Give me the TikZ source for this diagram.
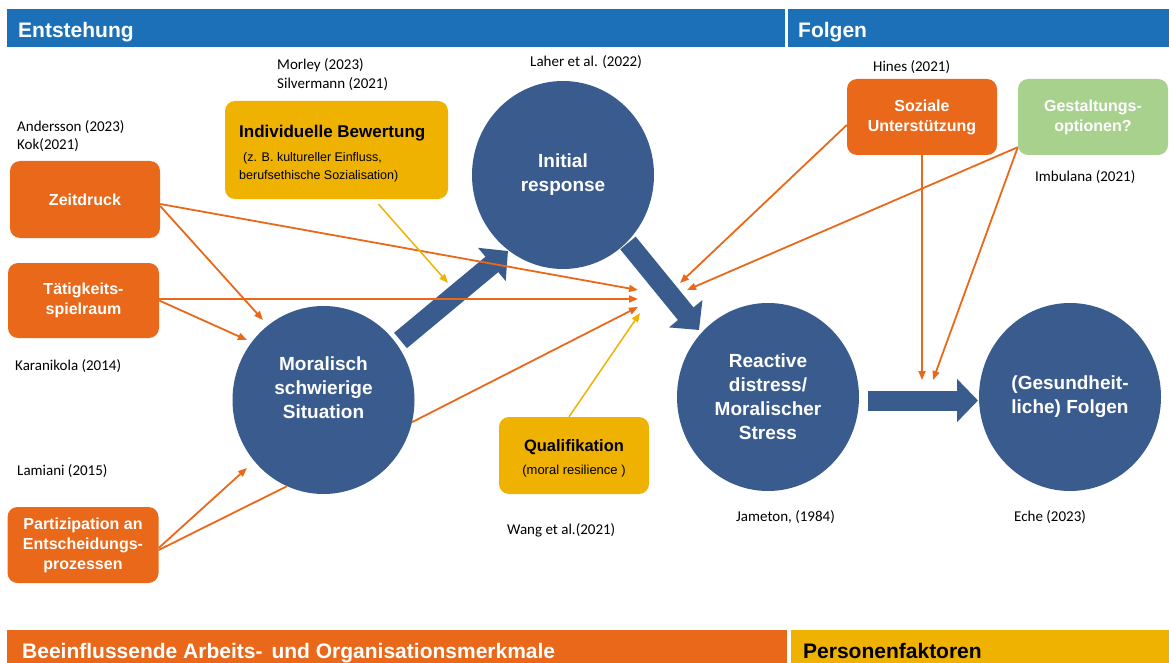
\documentclass[tikz,border=0pt]{standalone}
\usepackage{fontspec}
\setmainfont{Liberation Sans}
\newfontfamily\citefont{Carlito}
\usetikzlibrary{shapes.geometric,arrows.meta,calc}
\definecolor{barblue}{RGB}{28,112,184}
\definecolor{circblue}{RGB}{58,91,142}
\definecolor{ora}{RGB}{234,104,26}
\definecolor{yel}{RGB}{240,178,0}
\definecolor{grn}{RGB}{169,209,142}
\begin{document}
\begin{tikzpicture}[x=1pt,y=-1pt,
  circ/.style={ellipse, fill=circblue, minimum width=182pt, minimum height=188pt, inner sep=0pt, text=white, align=center, font=\fontsize{19}{24}\selectfont\bfseries},
  ctext/.style={inner sep=0pt, text=white, align=center, font=\fontsize{19}{24}\selectfont\bfseries},
  rbox/.style={rectangle, rounded corners=10pt, minimum width=150pt, minimum height=76pt, inner sep=0pt, align=center, font=\fontsize{16}{20}\selectfont\bfseries},
  obox/.style={rbox, fill=ora, text=white},
  ybox/.style={rbox, fill=yel},
  gbox/.style={rbox, fill=grn, text=white},
  cite/.style={anchor=base west, inner sep=0pt, font=\citefont\fontsize{15}{18}\selectfont},
  btxt/.style={anchor=base west, inner sep=0pt},
  oarr/.style={draw=ora, line width=1.8pt, -{Triangle[length=9pt,width=7pt]}},
  oline/.style={draw=ora, line width=1.8pt},
  yarr/.style={draw=yel, line width=1.5pt, -{Triangle[length=9pt,width=7pt]}},
  bigarr/.style={draw=circblue, line width=20pt, -{Triangle[length=21pt,width=42pt]}},
  bartxt/.style={anchor=base west, inner sep=0pt, font=\fontsize{21}{24}\selectfont\bfseries}
]
\useasboundingbox (0,0) rectangle (1169,663);
% header and footer bars
\fill[barblue] (7,9) rectangle (785,47);
\node[bartxt, text=white] (h1) at (18,38) {Entstehung};
\fill[barblue] (788,9) rectangle (1169,47);
\node[bartxt, text=white] (h2) at (798,38) {Folgen};
\fill[ora] (7,630) rectangle (787,663);
\node[bartxt, text=white] (h3) at (22,658) {Beeinflussende Arbeits-\hspace{0.15em} und Organisationsmerkmale};
\fill[yel] (791,630) rectangle (1169,663);
\node[bartxt] (h4) at (803,658) {Personenfaktoren};

% circles
\node[circ] (ms) at (323.5,400) {};
\node[ctext] (mst) at (323.5,388) {Moralisch\\schwierige\\Situation};
\node[circ] (ir) at (563,175) {Initial\\response};
\node[circ] (rd) at (768,397) {Reactive\\distress/\\Moralischer\\Stress};
\node[circ] (gf) at (1070,397) {(Gesundheit-\\liche) Folgen};

% boxes
\node[obox, minimum height=77pt] (zd) at (85,199.5) {Zeitdruck};
\node[obox, minimum width=151pt, minimum height=75pt] (ts) at (83.5,300.5) {T\"atigkeits-\\spielraum};
\node[obox, minimum width=151pt] (pz) at (83,545) {Partizipation an\\Entscheidungs-\\prozessen};
\node[ybox, minimum width=223pt, minimum height=98pt] (ib) at (336.5,150) {};
\node[btxt, font=\fontsize{17}{20}\selectfont\bfseries] (ibt) at (239,138) {Individuelle Bewertung};
\node[btxt, font=\fontsize{12.5}{15}\selectfont] (ibs1) at (243,162) {(z. B. kultureller Einfluss,};
\node[btxt, font=\fontsize{12.5}{15}\selectfont] (ibs2) at (239,180) {berufsethische Sozialisation)};
\node[ybox, minimum height=77pt] (ql) at (574,455.5) {};
\node[inner sep=0pt, anchor=base, font=\fontsize{16.5}{20}\selectfont\bfseries] (qlt) at (574,451) {Qualifikation};
\node[inner sep=0pt, anchor=base, font=\fontsize{13}{16}\selectfont] (qls) at (574,474) {(moral resilience )};
\node[obox] (su) at (922,117) {Soziale\\Unterst\"utzung};
\node[gbox] (go) at (1093,117) {Gestaltungs-\\optionen?};

% citations
\node[cite] (r1) at (277,70) {Morley (2023)};
\node[cite] (r2) at (277,89) {Silvermann (2021)};
\node[cite] (r3) at (530,67) {Laher et al. (2022)};
\node[cite] (r4) at (17,132) {Andersson (2023)};
\node[cite] (r5) at (17,150) {Kok(2021)};
\node[cite] (r6) at (15,370) {Karanikola (2014)};
\node[cite] (r7) at (17,475) {Lamiani (2015)};
\node[cite] (r8) at (507,534) {Wang et al.(2021)};
\node[cite] (r9) at (736,521) {Jameton, (1984)};
\node[cite] (r10) at (1014,521) {Eche (2023)};
\node[cite] (r11) at (873,72) {Hines (2021)};
\node[cite] (r12) at (1035,182) {Imbulana (2021)};

% big block arrows
\coordinate (a1s) at (400.5,340.5); \coordinate (a1e) at (508,251);
\coordinate (a2s) at (628,243); \coordinate (a2e) at (699,330);
\coordinate (a3s) at (868,400.5); \coordinate (a3e) at (978,400.5);
\draw[bigarr] (a1s) -- (a1e);
\draw[bigarr] (a2s) -- (a2e);
\draw[bigarr] (a3s) -- (a3e);

% thin connectors
\coordinate (c1) at (638,290);
\coordinate (c2) at (638,299);
\coordinate (c3) at (638,307);
\coordinate (c4) at (640,313);
\coordinate (c5) at (680,283);
\coordinate (c6) at (687,290);
\coordinate (m1) at (263,320);
\coordinate (m2) at (247,340);
\coordinate (m3) at (247,468);
\coordinate (y1) at (448,283);
\coordinate (d1) at (922,380);
\coordinate (d2) at (933,380);
\draw[oarr] ([yshift=-4.5pt]zd.east) -- (c1);
\draw[oarr] ([yshift=-6.5pt]zd.east) -- (m1);
\draw[oarr] ([yshift=1.5pt]ts.east) -- (c2);
\draw[oarr] (ts.east) -- (m2);
\draw[oarr] (ms.-14) -- (c3);
\draw[oarr] ([yshift=-3pt]pz.east) -- (m3);
\draw[oline] ([yshift=-5pt]pz.east) -- (ms.-113);
\draw[oarr] ([yshift=-8pt]su.west) -- (c5);
\draw[oarr] ([yshift=8pt]go.south west) -- (c6);
\draw[oarr] (su.south) -- (d1);
\draw[oarr] ([yshift=8pt]go.south west) -- (d2);
\draw[yarr] ([xshift=42pt,yshift=-5pt]ib.south) -- (y1);
\draw[yarr] ([xshift=-5pt]ql.north) -- (c4);
\end{tikzpicture}
\end{document}
